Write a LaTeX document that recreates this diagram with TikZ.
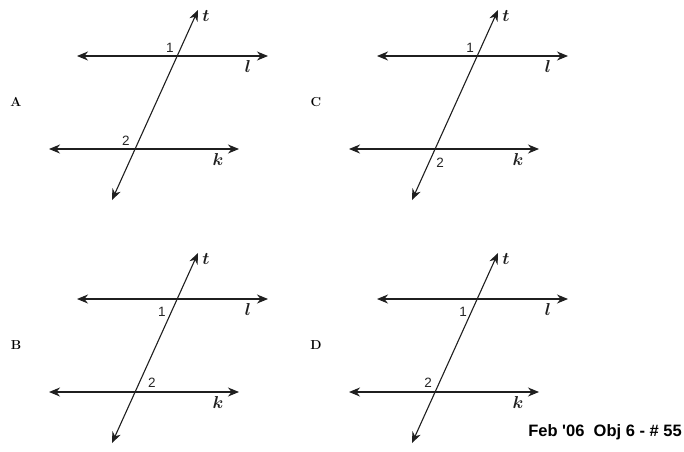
\documentclass[tikz,border=0pt]{standalone}
\usepackage{fontspec}
\newfontfamily\arialfont{Liberation Sans}
\usetikzlibrary{arrows.meta}
\tikzset{
  ln/.style={line width=1.1pt, draw=black!88, {Stealth[length=11pt,width=9pt,inset=3.5pt]}-{Stealth[length=11pt,width=9pt,inset=3.5pt]}},
  nm/.style={font=\arialfont\fontsize{13.5}{15}\selectfont, text=black!85, inner sep=0pt},
  var/.style={font=\fontsize{17}{19}\selectfont\boldmath, text=black!88, inner sep=0pt},
  letr/.style={font=\fontsize{13}{15}\selectfont\bfseries, inner sep=0pt},
  foot/.style={font=\arialfont\bfseries\fontsize{16.5}{19}\selectfont, inner sep=0pt}
}
\newcommand{\parpanel}[6]{%
\begin{scope}[shift={(#2,#3)}]
\coordinate (#1l1) at (77,56); \coordinate (#1l2) at (268,56);
\coordinate (#1k1) at (49,149); \coordinate (#1k2) at (239,149);
\coordinate (#1t1) at (112,200); \coordinate (#1t2) at (198,10);
\draw[ln] (#1l1) -- (#1l2);
\draw[ln] (#1k1) -- (#1k2);
\draw[ln] (#1t1) -- (#1t2);
\node[letr] (#1lab) at (16,102) {#4};
\node[nm] (#1one) at #5 {1};
\node[nm] (#1two) at #6 {2};
\node[var] (#1t) at (206,16) {$t$};
\node[var] (#1l) at (248,66) {$l$};
\node[var] (#1k) at (218,159) {$k$};
\end{scope}}
\begin{document}
\begin{tikzpicture}[x=1pt,y=-1pt]
\useasboundingbox[fill=white] (0,0) rectangle (684,451);
\parpanel{a}{0}{0}{A}{(170,48)}{(126,141)}
\parpanel{c}{300}{0}{C}{(170,48)}{(140,163)}
\parpanel{b}{0}{243}{B}{(162,69)}{(152,140)}
\parpanel{d}{300}{243}{D}{(163,69)}{(128,140)}
\node[foot] (footer) at (605,432) {Feb '06\ \ Obj 6 - \# 55};
\end{tikzpicture}
\end{document}
